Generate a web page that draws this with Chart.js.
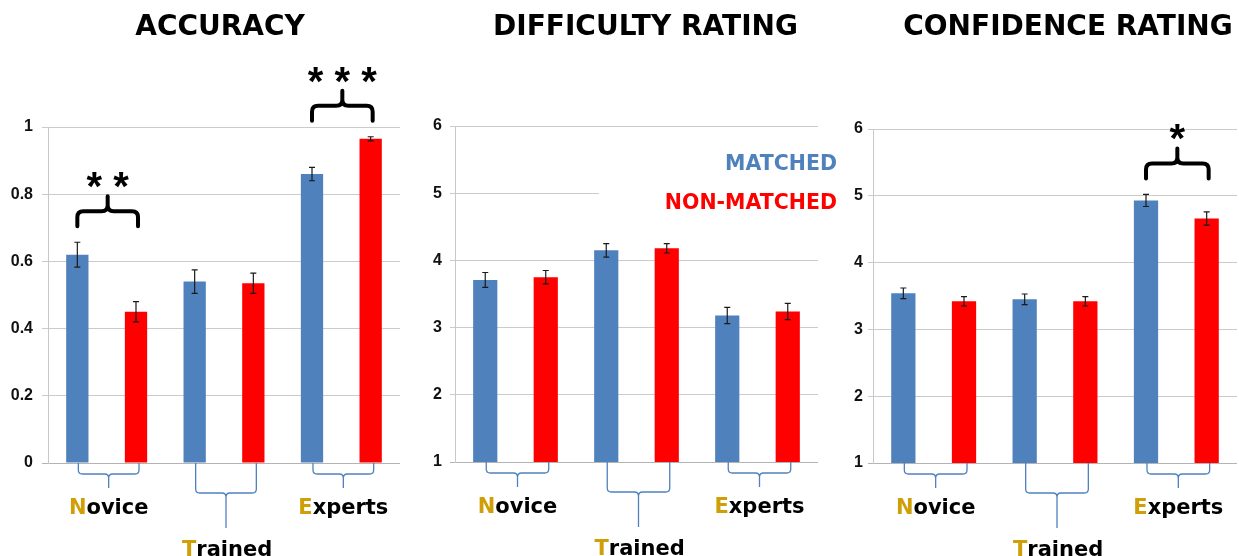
<!DOCTYPE html>
<html>
<head>
<meta charset="utf-8">
<script src="https://cdn.jsdelivr.net/npm/chart.js@4.4.1/dist/chart.umd.min.js"></script>
<style>
  body { margin: 0; background: #fff; width: 1239px; height: 556px; position: relative; overflow: hidden; }
  canvas { position: absolute; top: 0; }
</style>
</head>
<body>
<canvas id="acc" width="410" height="556" style="left:0"></canvas>
<canvas id="diff" width="435" height="556" style="left:410px"></canvas>
<canvas id="conf" width="394" height="556" style="left:845px"></canvas>
<script>
// groups and values
const groups = ['Novice', 'Trained', 'Experts'];

const accMatched = [0.62, 0.54, 0.86];
const accMatchedErr = [0.037, 0.035, 0.02];
const accNonMatched = [0.45, 0.535, 0.965];
const accNonMatchedErr = [0.03, 0.03, 0.006];

const diffMatched = [3.71, 4.15, 3.18];
const diffMatchedErr = [0.11, 0.1, 0.12];
const diffNonMatched = [3.75, 4.18, 3.24];
const diffNonMatchedErr = [0.1, 0.07, 0.12];

const confMatched = [3.54, 3.45, 4.93];
const confMatchedErr = [0.08, 0.08, 0.09];
const confNonMatched = [3.42, 3.42, 4.66];
const confNonMatchedErr = [0.07, 0.07, 0.1];

const accTicks = ['0', '0.2', '0.4', '0.6', '0.8', '1'];
const ratingTicks = ['1', '2', '3', '4', '5', '6'];

const accStars = ['* *', '', '* * *'];
const diffStars = ['', '', ''];
const confStars = ['', '', '*'];

const BLUE = '#4f81bd';
const RED = '#ff0000';
const GOLD = '#d09f08';
const FONT = '"Liberation Sans", Arial, sans-serif';
const HEAVY = '"DejaVu Sans", Verdana, sans-serif';

Chart.defaults.font.family = FONT;

// each group gets two slots: matched then non-matched
const slots = groups.flatMap(g => [g + ' matched', g + ' non-matched']);
const inSlot = (arr, pos) => groups.flatMap((g, i) => pos === 0 ? [arr[i], null] : [null, arr[i]]);

function brace(ctx, x1, x2, yStart, yMid, yTip, r) {
  const xm = (x1 + x2) / 2;
  const d = yMid > yStart ? 1 : -1;
  ctx.beginPath();
  ctx.moveTo(x1, yStart);
  ctx.lineTo(x1, yMid - d * r);
  ctx.quadraticCurveTo(x1, yMid, x1 + r, yMid);
  ctx.lineTo(xm - r, yMid);
  ctx.quadraticCurveTo(xm, yMid, xm, yMid + d * r);
  ctx.lineTo(xm, yTip);
  ctx.moveTo(x2, yStart);
  ctx.lineTo(x2, yMid - d * r);
  ctx.quadraticCurveTo(x2, yMid, x2 - r, yMid);
  ctx.lineTo(xm + r, yMid);
  ctx.quadraticCurveTo(xm, yMid, xm, yMid + d * r);
  ctx.stroke();
}

const extras = {
  id: 'extras',
  afterDraw(chart, args, o) {
    const { ctx, chartArea: a, scales: { x, y } } = chart;
    ctx.save();

    // error bars
    ctx.strokeStyle = '#1a1a1a';
    ctx.lineWidth = 1.2;
    chart.data.datasets.forEach((ds, i) => {
      chart.getDatasetMeta(i).data.forEach((bar, j) => {
        const v = ds.data[j];
        if (v == null) return;
        const e = ds.errors[j];
        const yt = y.getPixelForValue(v + e), yb = y.getPixelForValue(v - e);
        ctx.beginPath();
        ctx.moveTo(bar.x, yt); ctx.lineTo(bar.x, yb);
        ctx.moveTo(bar.x - 3, yt); ctx.lineTo(bar.x + 3, yt);
        ctx.moveTo(bar.x - 3, yb); ctx.lineTo(bar.x + 3, yb);
        ctx.stroke();
      });
    });

    // title
    ctx.fillStyle = '#000';
    ctx.font = 'bold 28px ' + HEAVY;
    ctx.textAlign = 'center';
    ctx.textBaseline = 'middle';
    ctx.fillText(o.title, (a.left + a.right) / 2 + o.titleDx, 28);

    // group braces + labels under the axis
    ctx.strokeStyle = BLUE;
    ctx.lineWidth = 1.3;
    ctx.font = 'bold 21px ' + HEAVY;
    ctx.textBaseline = 'alphabetic';
    groups.forEach((g, i) => {
      const x1 = x.getPixelForValue(2 * i) + 1;
      const x2 = x.getPixelForValue(2 * i + 1) + 3;
      const low = i === 1;
      brace(ctx, x1, x2, a.bottom, a.bottom + (low ? 30 : 11), a.bottom + (low ? 65 : 25), 4);
      const cx = (x1 + x2) / 2;
      const by = a.bottom + (low ? 93 : 51);
      const w = ctx.measureText(g).width;
      const w1 = ctx.measureText(g[0]).width;
      ctx.textAlign = 'left';
      ctx.fillStyle = GOLD;
      ctx.fillText(g[0], cx - w / 2, by);
      ctx.fillStyle = '#000';
      ctx.fillText(g.slice(1), cx - w / 2 + w1, by);
    });

    // significance braces
    ctx.strokeStyle = '#000';
    ctx.lineWidth = 4;
    ctx.lineCap = 'round';
    o.stars.forEach((s, i) => {
      if (!s) return;
      const d0 = chart.data.datasets[0], d1 = chart.data.datasets[1];
      const top = Math.max(d0.data[2 * i] + d0.errors[2 * i], d1.data[2 * i + 1] + d1.errors[2 * i + 1]);
      const x1 = x.getPixelForValue(2 * i);
      const x2 = x.getPixelForValue(2 * i + 1) + 2;
      const yb = y.getPixelForValue(top) - 16;
      brace(ctx, x1, x2, yb, yb - 15, yb - 30, 6);
      ctx.fillStyle = '#000';
      ctx.font = 'bold 40px ' + FONT;
      ctx.textAlign = 'center';
      ctx.fillText(s, (x1 + x2) / 2, yb - 26);
    });

    // text legend (middle chart)
    if (o.legend) {
      ctx.fillStyle = '#fff';
      ctx.fillRect(a.right - 219, 145, 260, 80);
      ctx.font = 'bold 20.5px ' + HEAVY;
      ctx.textAlign = 'right';
      ctx.textBaseline = 'middle';
      ctx.fillStyle = BLUE;
      ctx.fillText('MATCHED', a.right + 19, 165);
      ctx.fillStyle = RED;
      ctx.fillText('NON-MATCHED', a.right + 19, 204);
    }
    ctx.restore();
  }
};

function makeChart(id, cfg) {
  return new Chart(document.getElementById(id), {
    type: 'bar',
    data: {
      labels: slots,
      datasets: [
        { data: inSlot(cfg.matched, 0), errors: inSlot(cfg.matchedErr, 0), backgroundColor: BLUE },
        { data: inSlot(cfg.nonMatched, 1), errors: inSlot(cfg.nonMatchedErr, 1), backgroundColor: RED }
      ]
    },
    options: {
      responsive: false,
      animation: false,
      layout: { padding: cfg.padding },
      datasets: { bar: { grouped: false, categoryPercentage: 1, barPercentage: cfg.barPct, borderWidth: 0 } },
      scales: {
        x: { display: false },
        y: {
          min: cfg.min, max: cfg.max,
          afterFit: s => { s.width = cfg.axisW; },
          border: { display: true, color: '#c8c8c8' },
          grid: { color: c => c.tick && c.tick.value === cfg.min ? '#b4b4b4' : '#cbcbcb', tickLength: cfg.tickLen },
          ticks: {
            stepSize: cfg.step,
            padding: cfg.tickPad,
            color: '#111',
            font: { size: 16, weight: 'bold' },
            callback: (v, i) => cfg.tickLabels[i]
          }
        }
      },
      plugins: {
        legend: { display: false },
        tooltip: { enabled: false },
        extras: { title: cfg.title, titleDx: cfg.titleDx, stars: cfg.stars, legend: cfg.legend }
      }
    },
    plugins: [extras]
  });
}

makeChart('acc', {
  title: 'ACCURACY', titleDx: -4, stars: accStars, legend: false,
  matched: accMatched, matchedErr: accMatchedErr, nonMatched: accNonMatched, nonMatchedErr: accNonMatchedErr,
  min: 0, max: 1, step: 0.2, tickLabels: accTicks,
  padding: { top: 127, bottom: 93, left: 0, right: 10 }, axisW: 48, tickLen: 6, tickPad: 9, barPct: 0.38
});

makeChart('diff', {
  title: 'DIFFICULTY RATING', titleDx: 9, stars: diffStars, legend: true,
  matched: diffMatched, matchedErr: diffMatchedErr, nonMatched: diffNonMatched, nonMatchedErr: diffNonMatchedErr,
  min: 1, max: 6, step: 1, tickLabels: ratingTicks,
  padding: { top: 126, bottom: 94, left: 0, right: 27 }, axisW: 45, tickLen: 5, tickPad: 8, barPct: 0.4
});

makeChart('conf', {
  title: 'CONFIDENCE RATING', titleDx: 13, stars: confStars, legend: false,
  matched: confMatched, matchedErr: confMatchedErr, nonMatched: confNonMatched, nonMatchedErr: confNonMatchedErr,
  min: 1, max: 6, step: 1, tickLabels: ratingTicks,
  padding: { top: 129, bottom: 93, left: 0, right: 2 }, axisW: 28, tickLen: 5, tickPad: 5, barPct: 0.4
});
</script>
</body>
</html>
